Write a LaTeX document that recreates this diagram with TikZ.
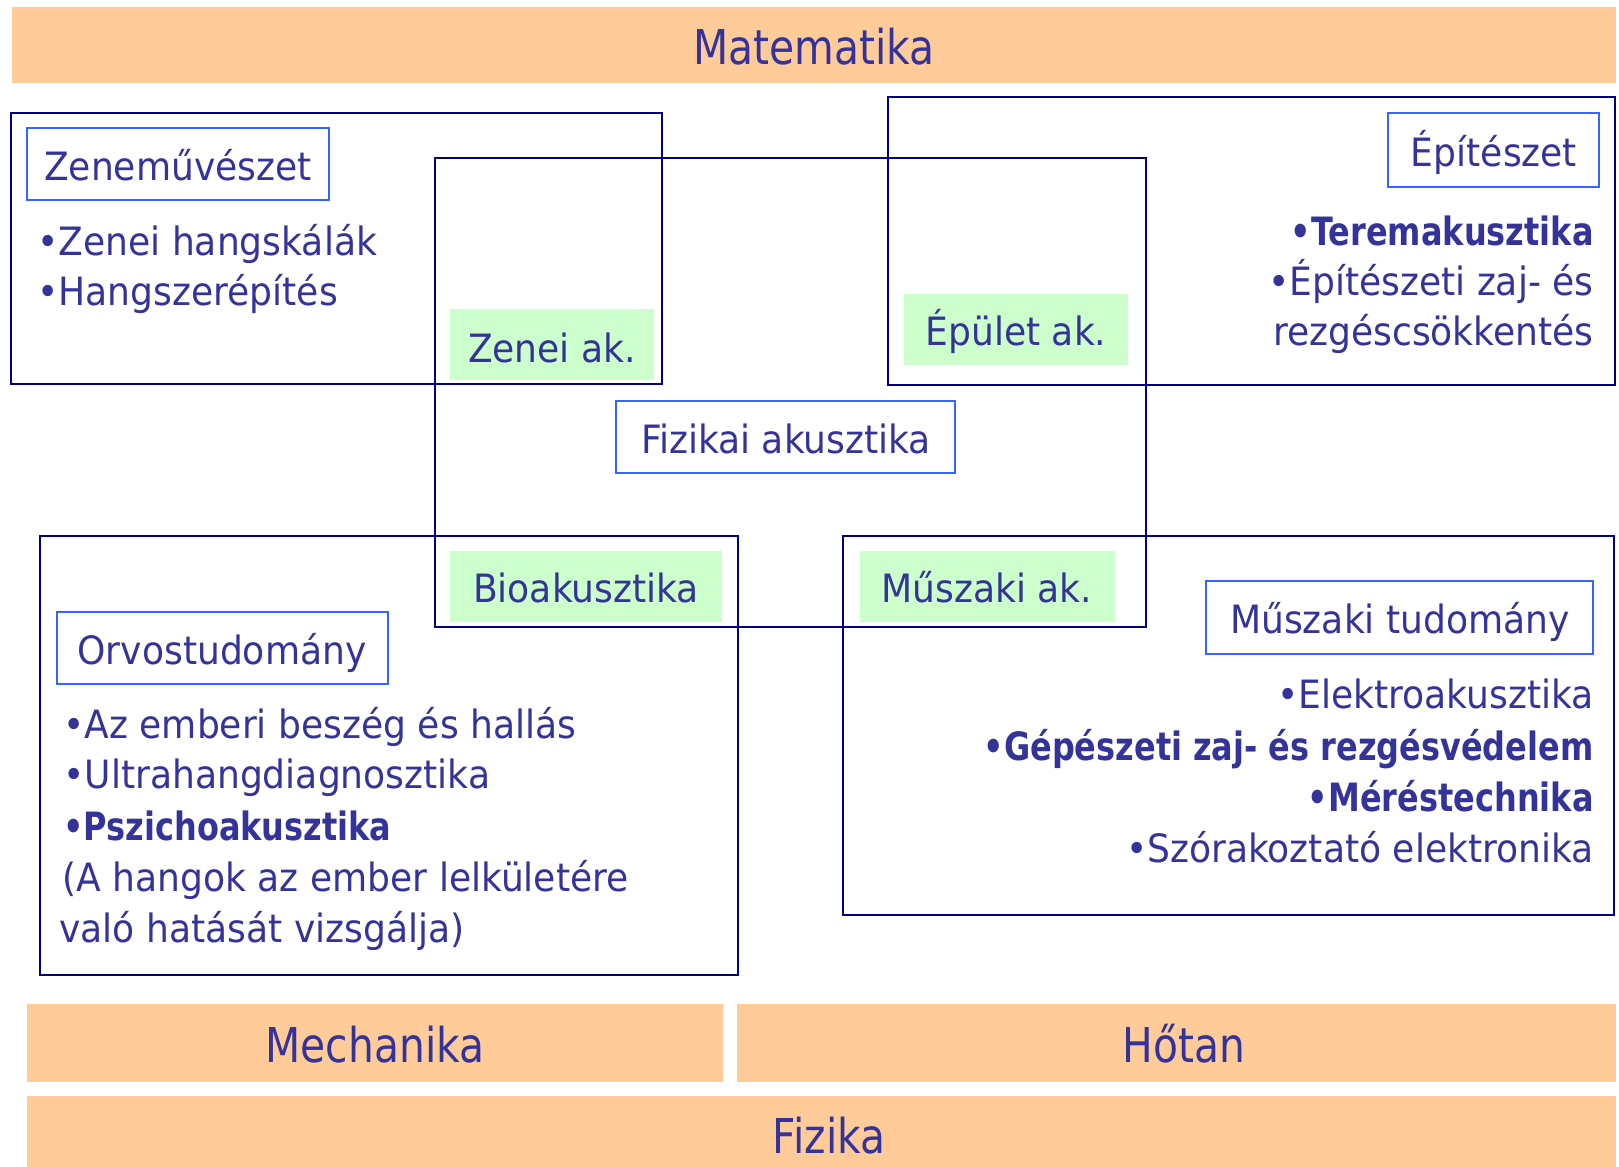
\documentclass[tikz,border=0pt]{standalone}
\usepackage{fontspec}
\setmainfont{DejaVu Sans}[FakeStretch=0.925]
\newfontfamily\boldfam{DejaVu Sans}[FakeStretch=0.82]
\newfontfamily\bandfam{DejaVu Sans}[FakeStretch=0.85]
\usetikzlibrary{fit}
\definecolor{txtc}{HTML}{333399}
\definecolor{bandc}{HTML}{FFCC99}
\definecolor{greenc}{HTML}{CCFFCC}
\definecolor{framec}{HTML}{000080}
\definecolor{lblc}{HTML}{3366FF}
\tikzset{
  band/.style={fill=bandc, draw=none, inner sep=0pt},
  greenbox/.style={fill=greenc, draw=none, inner sep=0pt},
  bigbox/.style={draw=framec, line width=1pt, inner sep=0pt},
  lblbox/.style={draw=lblc, line width=1pt, inner sep=0pt},
  bandtxt/.style={text=txtc, inner sep=0pt, font=\bandfam\fontsize{24}{28}\selectfont},
  bodytxt/.style={text=txtc, inner sep=0pt, font=\fontsize{19.5}{24}\selectfont},
  boldtxt/.style={text=txtc, inner sep=0pt, font=\boldfam\bfseries\fontsize{19.5}{24}\selectfont},
}
\begin{document}
\begin{tikzpicture}[x=0.5pt,y=-0.5pt]
\useasboundingbox (0,0) rectangle (1619,1167);
% bands
\node[band, fit={(12,7)(1616,83)}] (mat) {};
\node[bandtxt, anchor=base] (mattxt) at (814,64) {Matematika};
\node[band, fit={(27,1004)(723,1082)}] (mech) {};
\node[bandtxt, anchor=base] (mechtxt) at (375,1062) {Mechanika};
\node[band, fit={(737,1004)(1616,1082)}] (hot) {};
\node[bandtxt, anchor=base] (hottxt) at (1184,1062) {Hőtan};
\node[band, fit={(27,1096)(1616,1167)}] (fiz) {};
\node[bandtxt, anchor=base] (fiztxt) at (829,1153) {Fizika};
% green boxes
\node[greenbox, fit={(450,309)(654,380)}] (zak) {};
\node[bodytxt, anchor=base] (zaktxt) at (552,362) {Zenei ak.};
\node[greenbox, fit={(904,294)(1128,365)}] (eak) {};
\node[bodytxt, anchor=base] (eaktxt) at (1016,345) {Épület ak.};
\node[greenbox, fit={(450,551)(722,622)}] (bio) {};
\node[bodytxt, anchor=base] (biotxt) at (586,602) {Bioakusztika};
\node[greenbox, fit={(860,551)(1115,622)}] (mak) {};
\node[bodytxt, anchor=base] (maktxt) at (987,602) {Műszaki ak.};
% big frames
\node[bigbox, fit={(11,113)(662,384)}] (zene) {};
\node[bigbox, fit={(888,97)(1615,385)}] (epit) {};
\node[bigbox, fit={(40,536)(738,975)}] (orvos) {};
\node[bigbox, fit={(843,536)(1614,915)}] (musz) {};
\node[bigbox, fit={(435,158)(1146,627)}] (fizak) {};
% label boxes
\node[lblbox, fit={(27,128)(329,200)}] (zenelbl) {};
\node[bodytxt, anchor=base] (zenelbltxt) at (178,180) {Zeneművészet};
\node[lblbox, fit={(1388,113)(1599,187)}] (epitlbl) {};
\node[bodytxt, anchor=base] (epitlbltxt) at (1494,166) {Építészet};
\node[lblbox, fit={(616,401)(955,473)}] (fizlbl) {};
\node[bodytxt, anchor=base] (fizlbltxt) at (786,453) {Fizikai akusztika};
\node[lblbox, fit={(57,612)(388,684)}] (orvlbl) {};
\node[bodytxt, anchor=base] (orvlbltxt) at (222,664) {Orvostudomány};
\node[lblbox, fit={(1206,581)(1593,654)}] (muszlbl) {};
\node[bodytxt, anchor=base] (muszlbltxt) at (1400,633) {Műszaki tudomány};
% Zeneművészet items
\node[bodytxt, anchor=base west] (z1) at (37,255) {•Zenei hangskálák};
\node[bodytxt, anchor=base west] (z2) at (37,305) {•Hangszerépítés};
% Építészet items
\node[boldtxt, anchor=base east] (e1) at (1594,245) {•Teremakusztika};
\node[bodytxt, anchor=base east] (e2) at (1594,295) {•Építészeti zaj- és};
\node[bodytxt, anchor=base east] (e3) at (1594,345) {rezgéscsökkentés};
% Orvostudomány items
\node[bodytxt, anchor=base west] (o1) at (63,738) {•Az emberi beszég és hallás};
\node[bodytxt, anchor=base west] (o2) at (63,788) {•Ultrahangdiagnosztika};
\node[boldtxt, anchor=base west] (o3) at (63,840) {•Pszichoakusztika};
\node[bodytxt, anchor=base west] (o4) at (62,891) {(A hangok az ember lelkületére};
\node[bodytxt, anchor=base west] (o5) at (59,942) {való hatását vizsgálja)};
% Műszaki items
\node[bodytxt, anchor=base east] (m1) at (1594,708) {•Elektroakusztika};
\node[boldtxt, anchor=base east] (m2) at (1594,760) {•Gépészeti zaj- és rezgésvédelem};
\node[boldtxt, anchor=base east] (m3) at (1594,811) {•Méréstechnika};
\node[bodytxt, anchor=base east] (m4) at (1594,862) {•Szórakoztató elektronika};
\end{tikzpicture}
\end{document}
